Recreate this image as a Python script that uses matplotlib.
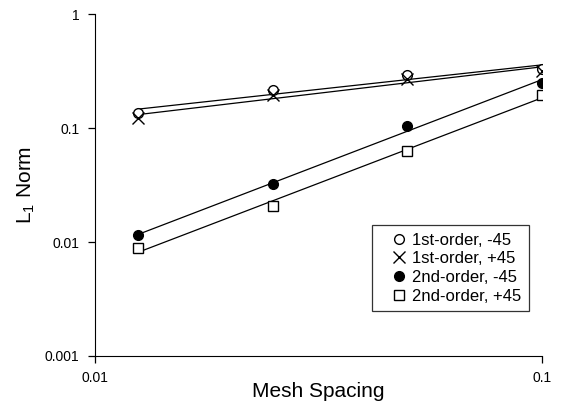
import numpy as np
import matplotlib
matplotlib.use("Agg")
import matplotlib.pyplot as plt
from matplotlib.lines import Line2D
from matplotlib.legend_handler import HandlerLine2D

plt.rcParams['font.family'] = ['Liberation Sans', 'DejaVu Sans']

# mesh spacing and L1 norm values
mesh = np.array([0.0125, 0.025, 0.05, 0.1])
first_m45 = np.array([0.135, 0.215, 0.29, 0.33])
first_p45 = np.array([0.122, 0.195, 0.27, 0.32])
second_m45 = np.array([0.0115, 0.032, 0.105, 0.25])
second_p45 = np.array([0.0088, 0.0208, 0.063, 0.195])

labels = ['1st-order, -45', '1st-order, +45', '2nd-order, -45', '2nd-order, +45']
series = [first_m45, first_p45, second_m45, second_p45]
styles = [dict(marker='o', mfc='white', mec='black'),
          dict(marker='x', color='black'),
          dict(marker='o', mfc='black', mec='black'),
          dict(marker='s', mfc='white', mec='black')]

fig = plt.figure(figsize=(5.61, 4.05), dpi=100)
ax = fig.add_axes([0.169, 0.121, 0.797, 0.844])

for vals, lab, st in zip(series, labels, styles):
    # power-law trendline, like the spreadsheet fit
    slope, icpt = np.polyfit(np.log10(mesh), np.log10(vals), 1)
    fit = 10 ** (icpt + slope * np.log10(mesh))
    ax.plot(mesh, fit, color='black', lw=0.9, zorder=1)
    ms = 8 if st['marker'] == 'x' else 7
    ax.plot(mesh, vals, ls='none', ms=ms, mew=1.0, label=lab, zorder=2, **st)

ax.set_xscale('log')
ax.set_yscale('log')
ax.set_xlim(0.01, 0.1)
ax.set_ylim(0.001, 1)
ax.set_xticks([0.01, 0.1])
ax.set_xticklabels(['0.01', '0.1'])
ax.set_yticks([0.001, 0.01, 0.1, 1])
ax.set_yticklabels(['0.001', '0.01', '0.1', '1'])
ax.minorticks_off()
ax.spines['top'].set_visible(False)
ax.spines['right'].set_visible(False)
ax.tick_params(direction='out', length=5, width=0.9, labelsize=10, pad=6)

ax.set_xlabel('Mesh Spacing', fontsize=15, labelpad=-2)
ax.set_ylabel(r'L$_{\mathregular{1}}$ Norm', fontsize=15, labelpad=6)

# shift legend markers right inside their handle slot
hmap = {Line2D: HandlerLine2D(xpad=0.6)}
leg = ax.legend(loc='upper right', bbox_to_anchor=(0.971, 0.383), fontsize=12,
                frameon=True, fancybox=False, edgecolor='black', handlelength=1.75,
                handletextpad=0.2, borderpad=0.45, labelspacing=0.22, borderaxespad=0,
                handler_map=hmap)
leg.get_frame().set_linewidth(0.9)

fig.savefig('out.png', dpi=100)
